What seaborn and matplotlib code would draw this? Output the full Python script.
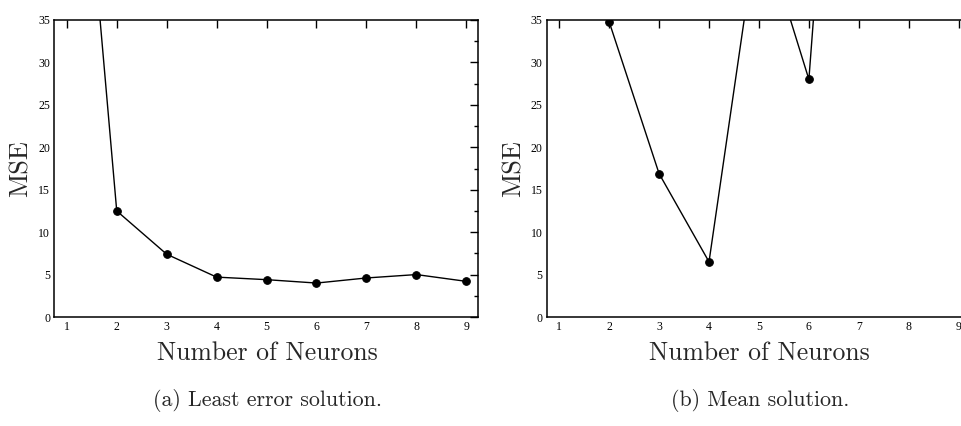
import matplotlib
matplotlib.use("Agg")
import matplotlib.pyplot as plt
import seaborn as sns
import pandas as pd
from matplotlib.ticker import MultipleLocator

# Data
neurons_a = [1, 2, 3, 4, 5, 6, 7, 8, 9]
mse_a = [80.0, 12.5, 7.4, 4.7, 4.4, 4.0, 4.6, 5.0, 4.2]
neurons_b = [2, 3, 4, 5, 6, 7]
mse_b = [34.8, 16.9, 6.5, 47.0, 28.0, 106.0]
xlabel = "Number of Neurons"
ylabel = "MSE"
captions = ["(a) Least error solution.", "(b) Mean solution."]

sns.set_theme(style="white")
plt.rcParams["font.family"] = ["Liberation Serif", "DejaVu Serif"]

fig = plt.figure(figsize=(9.62, 4.26), dpi=100)
W, H = 962, 426
boxes = [(54.3, 20, 478.3, 317), (546.7, 20, 970.7, 317)]
datasets = [(neurons_a, mse_a), (neurons_b, mse_b)]
label_font = ["cmr10", "DejaVu Serif"]

for (x0, y0, x1, y1), (xs, ys), cap in zip(boxes, datasets, captions):
    ax = fig.add_axes([x0 / W, 1 - y1 / H, (x1 - x0) / W, (y1 - y0) / H])
    df = pd.DataFrame({"n": xs, "mse": ys})
    sns.lineplot(data=df, x="n", y="mse", ax=ax, color="black", linewidth=1.0,
                 marker="o", markersize=5.5, markeredgecolor="black",
                 markerfacecolor="black")
    ax.set_xlim(0.75, 9.24)
    ax.set_ylim(0, 35)
    ax.xaxis.set_major_locator(MultipleLocator(1))
    ax.yaxis.set_major_locator(MultipleLocator(5))
    ax.yaxis.set_minor_locator(MultipleLocator(2.5))
    ax.tick_params(axis="both", which="both", direction="in", top=True, right=True,
                   labelsize=8.5, colors="black", width=1.0)
    ax.tick_params(axis="both", which="major", length=6, pad=3)
    ax.tick_params(axis="y", which="minor", length=3)
    ax.tick_params(axis="x", which="minor", length=0)
    for s in ax.spines.values():
        s.set_visible(True)
        s.set_color("black")
        s.set_linewidth(1.1)
    ax.set_xlabel("")
    ax.set_ylabel(ylabel, fontsize=19, family=label_font, labelpad=4)
    cx = (x0 + x1) / 2 + 1
    fig.text(cx / W, 1 - 353 / H, xlabel, ha="center", va="center", fontsize=18.5,
             family=label_font)
    fig.text(cx / W, 1 - 401 / H, cap, ha="center", va="center", fontsize=15.8,
             family=label_font)

fig.savefig("out.png", dpi=100, facecolor="white")
